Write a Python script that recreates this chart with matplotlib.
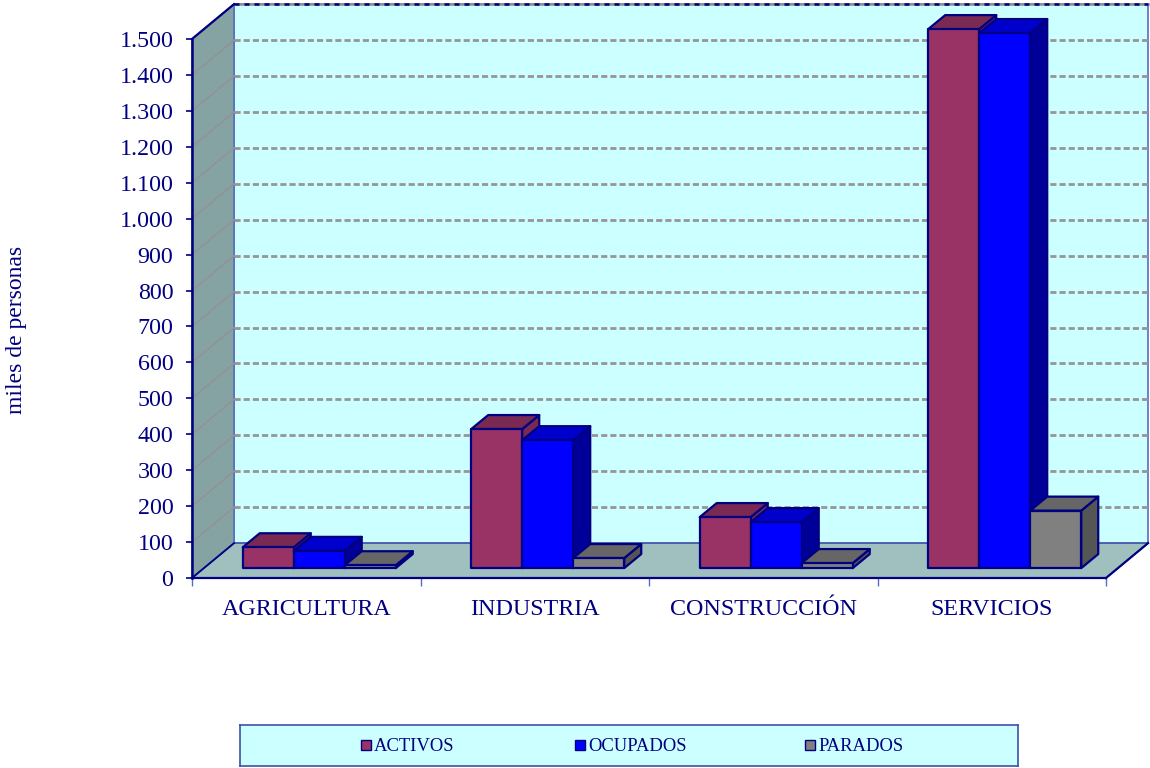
import matplotlib
matplotlib.use('Agg')
import matplotlib.pyplot as plt
from matplotlib.patches import Polygon, Rectangle

plt.rcParams['font.family'] = ['Liberation Serif', 'DejaVu Serif']

# data
categories = ['AGRICULTURA', 'INDUSTRIA', 'CONSTRUCCIÓN', 'SERVICIOS']
series_names = ['ACTIVOS', 'OCUPADOS', 'PARADOS']
activos = [58, 387, 142, 1500]
ocupados = [48, 356, 128, 1489]
parados = [8, 28, 14, 160]
y_ticks = list(range(0, 1600, 100))
y_labels = ['0', '100', '200', '300', '400', '500', '600', '700', '800', '900',
            '1.000', '1.100', '1.200', '1.300', '1.400', '1.500']

NAVY = '#000080'
front_colors = ['#993366', '#0000FF', '#808080']
top_colors = ['#7A2A52', '#0000CC', '#666666']
side_colors = ['#7A2A52', '#000099', '#555555']

W, H = 1150, 768
fig = plt.figure(figsize=(W / 100, H / 100), dpi=100, facecolor='white')
ax = fig.add_axes([192 / W, (H - 578) / H, 914 / W, 539 / H])
ax.set_xlim(0, 4)
ax.set_ylim(0, 1500)
ax.patch.set_visible(False)

# depth of the 3d box, and of the bars, in data units
wall_dx, wall_dy = 0.184, 97
bar_dx, bar_dy = 0.0744, 39
base_y = 27.5
start = 0.222
bar_w = 0.2232


def poly(pts, fc, ec=NAVY, lw=1.6, z=2):
    ax.add_patch(Polygon(pts, closed=True, facecolor=fc, edgecolor=ec, linewidth=lw,
                         zorder=z, clip_on=False, joinstyle='round'))


# walls and floor
x0, x1 = wall_dx, 4 + wall_dx
poly([(x0, wall_dy), (x1, wall_dy), (x1, 1500 + wall_dy), (x0, 1500 + wall_dy)], '#CCFFFF', ec='#5A6CC0', lw=1.2, z=1)
poly([(0, 0), (x0, wall_dy), (x0, 1500 + wall_dy), (0, 1500)], '#86A3A3', ec='#5A6CC0', lw=1.2, z=1)
poly([(0, 0), (4, 0), (x1, wall_dy), (x0, wall_dy)], '#9FC0BF', ec='#3F4FA8', lw=1.0, z=1)

# gridlines on the side wall and the back wall
for v in y_ticks[1:-1]:
    ax.plot([0, x0], [v, v + wall_dy], color='#8F9595', lw=1.3, zorder=1.5, clip_on=False)
    ax.plot([x0, x1], [v + wall_dy, v + wall_dy], color='#969696', lw=2, dashes=(2.2, 1.1),
            zorder=1.5, clip_on=False)
ax.plot([x0, x1], [1500 + wall_dy, 1500 + wall_dy], color='#908F8F', lw=1.8, zorder=1.6, clip_on=False)
ax.plot([x0, x1], [1500 + wall_dy, 1500 + wall_dy], color=NAVY, lw=1.8, dashes=(2, 2), zorder=1.7, clip_on=False)
ax.plot([0, x0], [1500, 1500 + wall_dy], color=NAVY, lw=1.6, zorder=1.7, clip_on=False)
ax.plot([0, x0], [0, wall_dy], color=NAVY, lw=1.3, zorder=1.7, clip_on=False)
ax.plot([4, x1], [0, wall_dy], color=NAVY, lw=1.6, zorder=1.7, clip_on=False)

# bars, left to right so each one covers the side of the previous
for i in range(len(categories)):
    for j, vals in enumerate([activos, ocupados, parados]):
        l = i + start + j * bar_w
        r = l + bar_w
        b = base_y
        t = base_y + vals[i]
        poly([(r, b), (r + bar_dx, b + bar_dy), (r + bar_dx, t + bar_dy), (r, t)], side_colors[j], z=3)
        poly([(l, t), (r, t), (r + bar_dx, t + bar_dy), (l + bar_dx, t + bar_dy)], top_colors[j], z=3)
        poly([(l, b), (r, b), (r, t), (l, t)], front_colors[j], z=3)

# axes
for s in ['top', 'right']:
    ax.spines[s].set_visible(False)
ax.spines['left'].set_color(NAVY)
ax.spines['left'].set_linewidth(1.8)
ax.spines['bottom'].set_color(NAVY)
ax.spines['bottom'].set_linewidth(1.6)
ax.set_yticks(y_ticks)
ax.set_yticklabels(y_labels)
ax.tick_params(axis='y', length=4.5, width=1.2, color=NAVY, labelcolor=NAVY, labelsize=17.3, pad=9)
ax.set_xticks(range(5))
ax.set_xticklabels([])
ax.tick_params(axis='x', which='major', length=6, width=1, color='#5A6CC0')
ax.set_xticks([i + 0.5 for i in range(4)], minor=True)
ax.set_xticklabels(categories, minor=True)
ax.tick_params(axis='x', which='minor', length=0, labelcolor=NAVY, labelsize=17.3, pad=15)

fig.text(17 / W, 1 - 330 / H, 'miles de personas', rotation=90, color=NAVY, fontsize=17,
         ha='center', va='center')

# legend box
lg = fig.add_axes([240 / W, (H - 766) / H, 778 / W, 41 / H])
lg.set_xlim(240, 1018)
lg.set_ylim(766, 725)
lg.set_facecolor('#CCFFFF')
lg.set_xticks([])
lg.set_yticks([])
for s in lg.spines.values():
    s.set_color('#3F4FA8')
    s.set_linewidth(1.2)
for name, c, mx in zip(series_names, front_colors, [361, 575, 805]):
    lg.add_patch(Rectangle((mx, 740), 10, 10, facecolor=c, edgecolor=NAVY, linewidth=1))
    lg.text(mx + 13, 746.5, name, color=NAVY, fontsize=13.4, ha='left', va='center')

fig.savefig('out.png', dpi=100)
